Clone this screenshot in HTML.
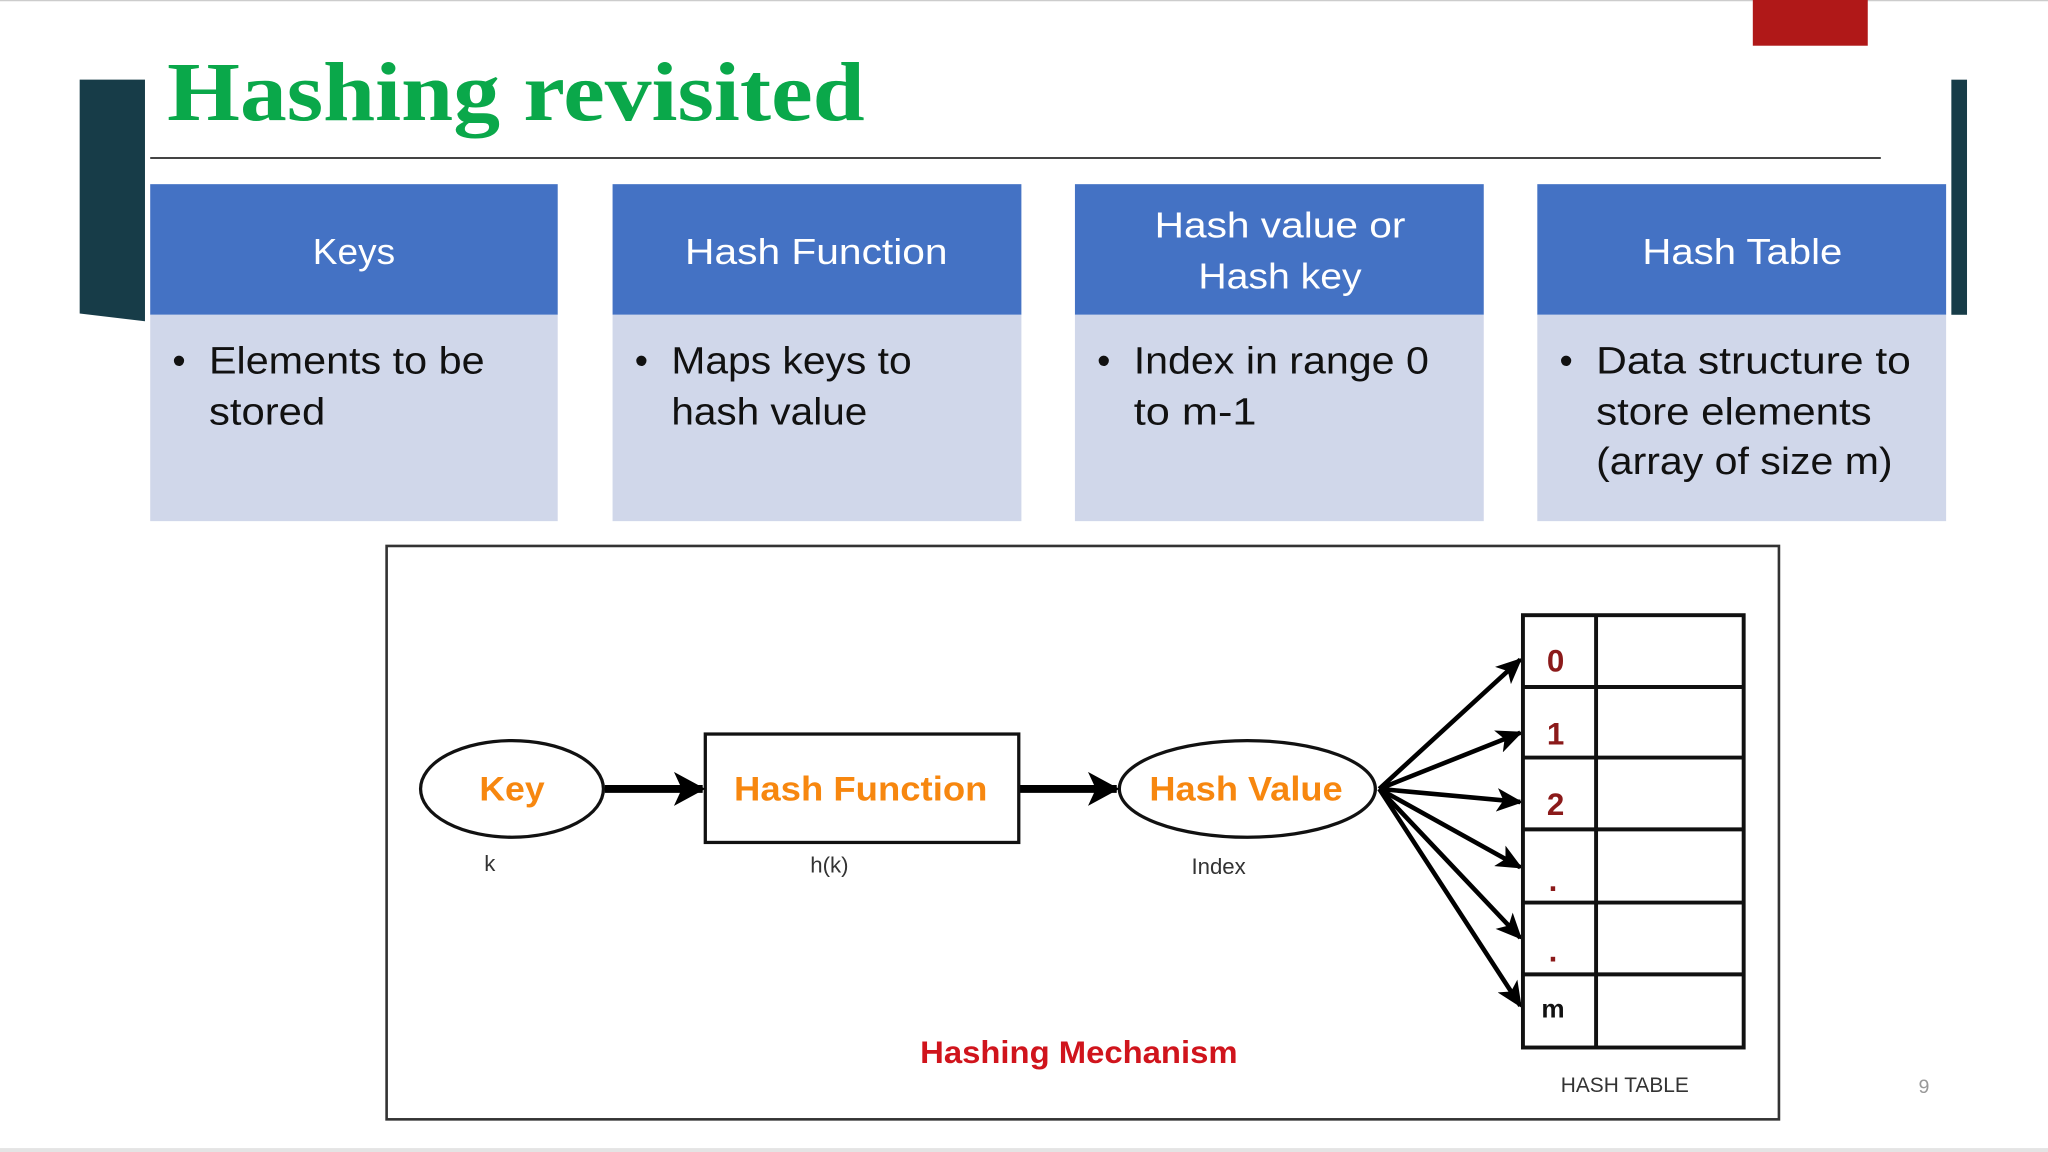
<!DOCTYPE html>
<html><head><meta charset="utf-8"><style>html,body{margin:0;padding:0;background:#fff;overflow:hidden}svg{display:block}</style></head>
<body>
<svg width="2048" height="1152" viewBox="0 0 1568 882" xmlns="http://www.w3.org/2000/svg" font-family="Liberation Sans, sans-serif">
<defs>
<marker id="ah" markerWidth="20" markerHeight="18" refX="18" refY="9" orient="auto" markerUnits="userSpaceOnUse"><path d="M0,0 L20,9 L0,18 L5,9 Z" fill="#000"/></marker>
<marker id="ahs" markerWidth="24" markerHeight="26" refX="22" refY="13" orient="auto" markerUnits="userSpaceOnUse"><path d="M0,0 L24,13 L0,26 L6,13 Z" fill="#000"/></marker>
</defs>
<rect width="1568" height="882" fill="#fff"/>
<line x1="0" y1="0.5" x2="1568" y2="0.5" stroke="#ccc" stroke-width="1"/>
<rect x="0" y="879" width="1568" height="3" fill="#e4e4e4"/>
<rect x="1342" y="0" width="88" height="35" fill="#b01818"/>
<polygon points="61,61 111,61 111,246 61,240" fill="#173c48"/>
<rect x="1494" y="61" width="12" height="180" fill="#173c48"/>
<text x="128" y="92" font-family="Liberation Serif, serif" font-weight="bold" font-size="64" fill="#0aa84a" textLength="534" lengthAdjust="spacingAndGlyphs">Hashing revisited</text>
<line x1="115" y1="121" x2="1440" y2="121" stroke="#444" stroke-width="1.5"/>
<g>
<rect x="115" y="141" width="312" height="100" fill="#4472c4"/><rect x="115" y="241" width="312" height="158" fill="#d0d7ea"/>
<rect x="469" y="141" width="313" height="100" fill="#4472c4"/><rect x="469" y="241" width="313" height="158" fill="#d0d7ea"/>
<rect x="823" y="141" width="313" height="100" fill="#4472c4"/><rect x="823" y="241" width="313" height="158" fill="#d0d7ea"/>
<rect x="1177" y="141" width="313" height="100" fill="#4472c4"/><rect x="1177" y="241" width="313" height="158" fill="#d0d7ea"/>
</g>
<g fill="#fff" font-size="28" text-anchor="middle">
<text x="271" y="202" textLength="63" lengthAdjust="spacingAndGlyphs">Keys</text>
<text x="625" y="202" textLength="201" lengthAdjust="spacingAndGlyphs">Hash Function</text>
<text x="980" y="182" textLength="192" lengthAdjust="spacingAndGlyphs">Hash value or</text>
<text x="980" y="221" textLength="125" lengthAdjust="spacingAndGlyphs">Hash key</text>
<text x="1334" y="202" textLength="153" lengthAdjust="spacingAndGlyphs">Hash Table</text>
</g>
<g fill="#111" font-size="29">
<text x="132" y="286">•</text><text x="160" y="286" textLength="211" lengthAdjust="spacingAndGlyphs">Elements to be</text><text x="160" y="325" textLength="89" lengthAdjust="spacingAndGlyphs">stored</text>
<text x="486" y="286">•</text><text x="514" y="286" textLength="184" lengthAdjust="spacingAndGlyphs">Maps keys to</text><text x="514" y="325" textLength="150" lengthAdjust="spacingAndGlyphs">hash value</text>
<text x="840" y="286">•</text><text x="868" y="286" textLength="226" lengthAdjust="spacingAndGlyphs">Index in range 0</text><text x="868" y="325" textLength="94" lengthAdjust="spacingAndGlyphs">to m-1</text>
<text x="1194" y="286">•</text><text x="1222" y="286" textLength="241" lengthAdjust="spacingAndGlyphs">Data structure to</text><text x="1222" y="325" textLength="211" lengthAdjust="spacingAndGlyphs">store elements</text><text x="1222" y="363" textLength="227" lengthAdjust="spacingAndGlyphs">(array of size m)</text>
</g>
<rect x="296" y="418" width="1066" height="439" fill="#fff" stroke="#333" stroke-width="2"/>
<ellipse cx="392" cy="604" rx="70" ry="37" fill="#fff" stroke="#111" stroke-width="2.5"/>
<rect x="540" y="562" width="240" height="83" fill="#fff" stroke="#111" stroke-width="2.5"/>
<ellipse cx="955" cy="604" rx="98" ry="37" fill="#fff" stroke="#111" stroke-width="2.5"/>
<line x1="463" y1="604" x2="538" y2="604" stroke="#000" stroke-width="6" marker-end="url(#ahs)"/>
<line x1="781" y1="604" x2="855" y2="604" stroke="#000" stroke-width="6" marker-end="url(#ahs)"/>
<g fill="#f7870f" font-weight="bold" font-size="26" text-anchor="middle">
<text x="392" y="613" textLength="50" lengthAdjust="spacingAndGlyphs">Key</text><text x="659" y="613" textLength="194" lengthAdjust="spacingAndGlyphs">Hash Function</text><text x="954" y="613" textLength="148" lengthAdjust="spacingAndGlyphs">Hash Value</text>
</g>
<g fill="#333" font-size="17" text-anchor="middle">
<text x="375" y="667">k</text><text x="635" y="668">h(k)</text><text x="933" y="669">Index</text>
</g>
<g stroke="#000" stroke-width="3.5" marker-end="url(#ah)">
<line x1="1056" y1="604" x2="1164" y2="505"/>
<line x1="1056" y1="604" x2="1164" y2="561"/>
<line x1="1056" y1="604" x2="1164" y2="614"/>
<line x1="1056" y1="604" x2="1164" y2="664"/>
<line x1="1056" y1="604" x2="1164" y2="718"/>
<line x1="1056" y1="604" x2="1164" y2="770"/>
</g>
<g stroke="#111" stroke-width="3" fill="none">
<rect x="1166" y="471" width="169" height="331"/>
<line x1="1222" y1="471" x2="1222" y2="802"/>
<line x1="1166" y1="526" x2="1335" y2="526"/>
<line x1="1166" y1="580" x2="1335" y2="580"/>
<line x1="1166" y1="635" x2="1335" y2="635"/>
<line x1="1166" y1="691" x2="1335" y2="691"/>
<line x1="1166" y1="746" x2="1335" y2="746"/>
</g>
<g fill="#8b1a1a" font-weight="bold" font-size="24" text-anchor="middle">
<text x="1191" y="514">0</text><text x="1191" y="570">1</text><text x="1191" y="624">2</text>
<text x="1189" y="682">.</text><text x="1189" y="736">.</text>
</g>
<text x="1189" y="779" font-weight="bold" font-size="20" fill="#111" text-anchor="middle">m</text>
<text x="826" y="814" fill="#d0141c" font-weight="bold" font-size="24" text-anchor="middle" textLength="243" lengthAdjust="spacingAndGlyphs">Hashing Mechanism</text>
<text x="1244" y="836" fill="#333" font-size="16" text-anchor="middle">HASH TABLE</text>
<text x="1473" y="837" fill="#999" font-size="15" text-anchor="middle">9</text>
</svg>
</body></html>
